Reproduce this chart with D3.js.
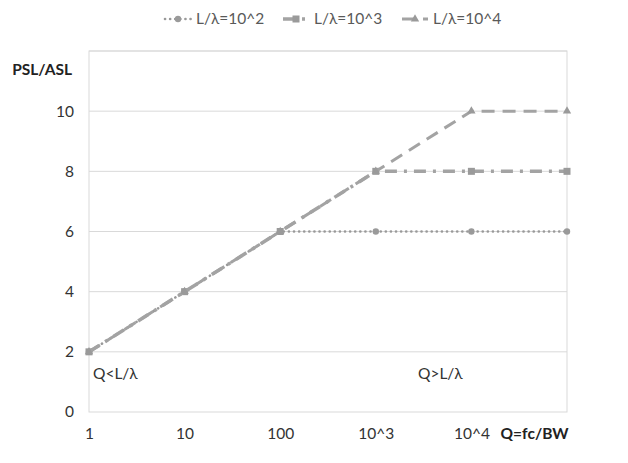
<!DOCTYPE html>
<html><head><meta charset="utf-8">
<script src="https://cdn.jsdelivr.net/npm/d3@7"></script>
<style>body{margin:0;background:#fff}svg{display:block}text{font-family:Lato,"Open Sans",sans-serif}</style>
</head><body>
<svg id="c" width="628" height="463"></svg>
<script>
const categories = ["1","10","100","10^3","10^4","Q=fc/BW"];
const s100 = [2,4,6,6,6,6];
const s1000 = [2,4,6,8,8,8];
const s10000 = [2,4,6,8,10,10];
const seriesNames = ["L/\u03bb=10^2","L/\u03bb=10^3","L/\u03bb=10^4"];
const yTicks = [0,2,4,6,8,10];

const svg = d3.select("#c");
const pL=89,pR=567,pT=51,pB=412;
const x = d3.scalePoint().domain(categories).range([pL,pR]).padding(0);
const y = d3.scaleLinear().domain([0,12]).range([pB,pT]);
const lineCol="#a3a3a3", markCol="#9a9a9a", grid="#d9d9d9", txt="#333333";

// gridlines
svg.append("g").selectAll("line").data([2,4,6,8,10,12]).join("line")
  .attr("x1",pL).attr("x2",pR).attr("y1",d=>y(d)).attr("y2",d=>y(d))
  .attr("stroke",grid).attr("stroke-width",1);
// border
svg.append("rect").attr("x",pL).attr("y",y(12)).attr("width",pR-pL).attr("height",y(0)-y(12))
  .attr("fill","none").attr("stroke",grid).attr("stroke-width",1);

// y axis
const yAx = svg.append("g").attr("transform",`translate(${pL},0)`)
  .call(d3.axisLeft(y).tickValues(yTicks).tickSize(0).tickPadding(15));
yAx.select(".domain").remove();
yAx.selectAll("text").attr("font-size",15.5).attr("fill",txt).attr("font-family","Lato,sans-serif");

// x axis
const xAx = svg.append("g").attr("transform",`translate(0,${pB})`)
  .call(d3.axisBottom(x).tickSize(0).tickPadding(16));
xAx.select(".domain").remove();
xAx.selectAll("text").attr("font-size",15.5).attr("fill",txt).attr("font-family","Lato,sans-serif")
  .filter(d=>d==="Q=fc/BW").attr("font-weight","bold").attr("fill","#222").attr("text-anchor","end").attr("dx",1);

svg.append("text").attr("x",72).attr("y",pT+24).attr("text-anchor","end")
  .attr("font-size",15.5).attr("font-weight","bold").attr("fill","#222").text("PSL/ASL");

const series = [
  {name:seriesNames[0], vals:s100, dash:"0.1,5", w:2.6, cap:"round", marker:"circle"},
  {name:seriesNames[1], vals:s1000, dash:"12,7,3,7", w:3.5, cap:"butt", marker:"square"},
  {name:seriesNames[2], vals:s10000, dash:"13,8", w:3, cap:"butt", marker:"triangle"}
];
const line = d3.line().x((d,i)=>x(categories[i])).y(d=>y(d));
function drawMarker(g,type,cx,cy){
  if(type==="circle") g.append("circle").attr("cx",cx).attr("cy",cy).attr("r",3.2).attr("fill",markCol);
  else if(type==="square") g.append("rect").attr("x",cx-3.5).attr("y",cy-3.5).attr("width",7).attr("height",7).attr("fill",markCol);
  else g.append("path").attr("d",d3.symbol(d3.symbolTriangle,30)()).attr("transform",`translate(${cx},${cy})`).attr("fill",markCol);
}
series.forEach(s=>{
  const g=svg.append("g");
  g.append("path").attr("d",line(s.vals)).attr("fill","none").attr("stroke",s.marker==="circle"?"#999":lineCol)
    .attr("stroke-width",s.w).attr("stroke-dasharray",s.dash).attr("stroke-linecap",s.cap);
  s.vals.forEach((v,i)=>drawMarker(g,s.marker,x(categories[i]),y(v)));
});

// annotations
svg.append("text").attr("x",93).attr("y",y(1.1)).attr("font-size",15.5).attr("fill",txt).text("Q<L/\u03bb");
svg.append("text").attr("x",418).attr("y",y(1.1)).attr("font-size",15.5).attr("fill",txt).text("Q>L/\u03bb");

// legend
const lg = svg.append("g");
const lx=[165,283,402], ly=19;
series.forEach((s,i)=>{
  const g=lg.append("g");
  g.append("line").attr("x1",lx[i]).attr("x2",lx[i]+26).attr("y1",ly).attr("y2",ly)
    .attr("stroke",s.marker==="circle"?"#999":lineCol).attr("stroke-width",s.w).attr("stroke-dasharray",s.dash).attr("stroke-linecap",s.cap);
  drawMarker(g,s.marker,lx[i]+13,ly);
  g.append("text").attr("x",lx[i]+31).attr("y",ly).attr("dy","0.35em").attr("font-size",15.5)
    .attr("fill","#595959").text(s.name);
});
</script>
</body></html>
